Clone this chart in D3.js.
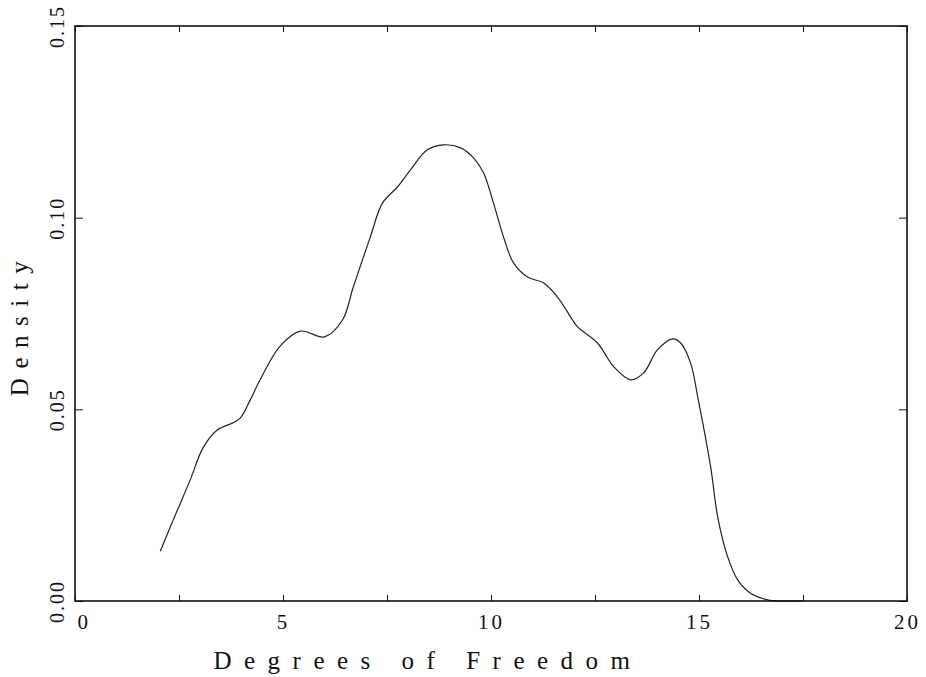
<!DOCTYPE html>
<html>
<head>
<meta charset="utf-8">
<script src="https://cdn.jsdelivr.net/npm/d3@7"></script>
<style>
  html, body { margin: 0; padding: 0; background: #fff; }
  svg text { font-family: "Liberation Serif", "DejaVu Serif", serif; fill: #111; }
</style>
</head>
<body>
<svg id="chart" width="926" height="677"></svg>
<script>
// ---- data ----
const dfValues = [2.05, 2.36, 2.77, 3.08, 3.42, 3.78, 3.97, 4.21, 4.45, 4.93, 5.42, 6.0, 6.43, 6.69, 7.1, 7.39, 7.75, 8.06, 8.47, 8.86, 9.27, 9.58, 9.82, 10.06, 10.3, 10.54, 10.88, 11.26, 11.6, 11.96, 12.08, 12.56, 12.95, 13.36, 13.67, 14.0, 14.37, 14.56, 14.8, 14.97, 15.28, 15.45, 15.69, 15.93, 16.24, 16.65, 17.0, 17.5];
const densityValues = [0.013, 0.0211, 0.0316, 0.040, 0.0446, 0.0464, 0.0477, 0.0524, 0.0577, 0.0665, 0.0704, 0.0689, 0.0733, 0.0819, 0.095, 0.1038, 0.108, 0.1124, 0.1177, 0.119, 0.1182, 0.1156, 0.1117, 0.1038, 0.095, 0.0882, 0.0845, 0.083, 0.0793, 0.0733, 0.0715, 0.0673, 0.0611, 0.0577, 0.0595, 0.0655, 0.0684, 0.0673, 0.062, 0.0532, 0.035, 0.0219, 0.0115, 0.0055, 0.002, 0.0003, 0.0, 0.0];
const xTickValues = [0, 2.5, 5, 7.5, 10, 12.5, 15, 17.5, 20];
const xLabelValues = [0, 5, 10, 15, 20];
const yTickValues = [0, 0.05, 0.10, 0.15];
const xTitle = "Degrees of Freedom";
const yTitle = "Density";

// ---- layout ----
const svg = d3.select("#chart");
const L = 75, R = 907, T = 26, B = 601;
const x = d3.scaleLinear().domain([0, 20]).range([L, R]);
const y = d3.scaleLinear().domain([0, 0.15]).range([B, T]);

const points = dfValues.map((d, i) => [d, densityValues[i]]);

// curve
const line = d3.line()
  .x(d => x(d[0]))
  .y(d => y(d[1]))
  .curve(d3.curveCatmullRom.alpha(0.5));

svg.append("path")
  .datum(points)
  .attr("d", line)
  .attr("fill", "none")
  .attr("stroke", "#222")
  .attr("stroke-width", 1.2);

// axes (inward ticks)
const fmtX = d => xLabelValues.includes(d) ? d3.format("d")(d) : "";
const gBottom = svg.append("g").attr("transform", `translate(0,${B})`)
  .call(d3.axisBottom(x).tickValues(xTickValues).tickSizeInner(-6).tickSizeOuter(0).tickPadding(0).tickFormat(fmtX));
const gTop = svg.append("g").attr("transform", `translate(0,${T})`)
  .call(d3.axisTop(x).tickValues(xTickValues).tickSizeInner(-6).tickSizeOuter(0).tickFormat(""));
const gLeft = svg.append("g").attr("transform", `translate(${L},0)`)
  .call(d3.axisLeft(y).tickValues(yTickValues).tickSizeInner(-8).tickSizeOuter(0).tickFormat(d3.format(".2f")));
const gRight = svg.append("g").attr("transform", `translate(${R},0)`)
  .call(d3.axisRight(y).tickValues(yTickValues).tickSizeInner(-8).tickSizeOuter(0).tickFormat(""));

[gBottom, gTop, gLeft, gRight].forEach(g => {
  g.select(".domain").remove();
  g.selectAll(".tick line").attr("stroke", "#111").attr("stroke-width", 1);
});

// x tick labels
gBottom.selectAll(".tick text")
  .attr("y", 28)
  .attr("dy", 0)
  .attr("font-size", 21)
  .attr("letter-spacing", 3)
  .attr("text-anchor", d => d === 0 ? "start" : "middle")
  .attr("dx", d => d === 0 ? 2 : 0)
  .attr("fill", "#111");

// y tick labels, rotated
gLeft.selectAll(".tick text")
  .attr("x", null).attr("dy", null)
  .attr("transform", "translate(-11,0) rotate(-90)")
  .attr("text-anchor", "middle")
  .attr("font-size", 20)
  .attr("letter-spacing", 2)
  .attr("fill", "#111");

// frame
svg.append("rect")
  .attr("x", L).attr("y", T)
  .attr("width", R - L).attr("height", B - T)
  .attr("fill", "none")
  .attr("stroke", "#111")
  .attr("stroke-width", 1.6);

// titles
svg.append("text")
  .attr("x", 428).attr("y", 669)
  .attr("text-anchor", "middle")
  .attr("font-size", 25)
  .attr("letter-spacing", 12.5)
  .text(xTitle);

svg.append("text")
  .attr("transform", "translate(28,324) rotate(-90)")
  .attr("text-anchor", "middle")
  .attr("font-size", 25)
  .attr("letter-spacing", 9.5)
  .text(yTitle);
</script>
</body>
</html>
